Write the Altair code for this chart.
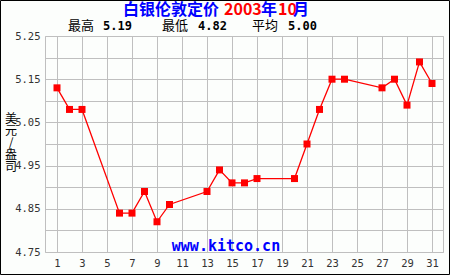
import altair as alt
import pandas as pd

days = [1, 2, 3, 6, 7, 8, 9, 10, 13, 14, 15, 16, 17, 20, 21, 22, 23, 24, 27, 28, 29, 30, 31]
prices = [5.13, 5.08, 5.08, 4.84, 4.84, 4.89, 4.82, 4.86, 4.89, 4.94, 4.91, 4.91, 4.92,
          4.92, 5.00, 5.08, 5.15, 5.15, 5.13, 5.15, 5.09, 5.19, 5.14]
x_ticks = [1, 3, 5, 7, 9, 11, 13, 15, 17, 19, 21, 23, 25, 27, 29, 31]
y_ticks = [4.75, 4.80, 4.85, 4.90, 4.95, 5.00, 5.05, 5.10, 5.15, 5.20, 5.25]
y_title_chars = ["美", "元", "/", "盎", "司"]

df = pd.DataFrame({"day": days, "price": prices})
one = pd.DataFrame({"k": [0]})

BLUE = "#0000FF"
RED = "#FF0000"

x = alt.X("day:Q", scale=alt.Scale(domain=[0.04, 31.88], nice=False, zero=False),
          axis=alt.Axis(values=x_ticks, title=None, grid=True, domain=False, ticks=False,
                        labelPadding=6, labelFlush=False))
y = alt.Y("price:Q", scale=alt.Scale(domain=[4.75, 5.25], nice=False, zero=False),
          axis=alt.Axis(values=y_ticks, title=None, grid=True, domain=False, ticks=False,
                        labelPadding=5, labelFlush=False,
                        labelExpr="abs(round(datum.value*100) % 10 - 5) < 1 ? format(datum.value, '.2f') : ''"))

line = alt.Chart(df).mark_line(color=RED, strokeWidth=1.3).encode(x=x, y=y)
pts = alt.Chart(df).mark_point(shape="square", filled=True, size=49, color=RED, opacity=1).encode(x=x, y=y)


def txt(text, px, py, color="#000000", size=12, weight="normal", font="Noto Sans CJK SC",
        align="left", baseline="middle"):
    return alt.Chart(one).mark_text(align=align, baseline=baseline, fontSize=size,
                                    fontWeight=weight, font=font, color=color).encode(
        x=alt.value(px), y=alt.value(py), text=alt.value(text))


L, T = 45, 36
layers = [
    line, pts,
    txt("白银伦敦定价", 123 - L, 10 - T, BLUE, 16, "bold"),
    txt("2003", 224 - L, 10 - T, RED, 16, "bold"),
    txt("年", 261 - L, 10 - T, BLUE, 16, "bold"),
    txt("10", 278 - L, 10 - T, RED, 16, "bold"),
    txt("月", 293 - L, 10 - T, BLUE, 16, "bold"),
    txt("最高", 68 - L, 26 - T, "#000000", 13),
    txt("5.19", 103 - L, 26 - T, "#000000", 12, "bold", "DejaVu Sans Mono"),
    txt("最低", 162 - L, 26 - T, "#000000", 13),
    txt("4.82", 198 - L, 26 - T, "#000000", 12, "bold", "DejaVu Sans Mono"),
    txt("平均", 252 - L, 26 - T, "#000000", 13),
    txt("5.00", 288 - L, 26 - T, "#000000", 12, "bold", "DejaVu Sans Mono"),
    txt("www.kitco.cn", 226 - L, 246 - T, BLUE, 15, "bold", "DejaVu Sans Mono", align="center"),
    alt.Chart(one).mark_rect(filled=False, stroke="#000000", strokeWidth=1).encode(
        x=alt.value(-L + 0.5), x2=alt.value(450 - L - 0.5),
        y=alt.value(-T + 0.5), y2=alt.value(275 - T - 0.5)),
]
for i, ch in enumerate(y_title_chars):
    layers.append(txt(ch, 11 - L, 118.5 + 12 * i - T, "#000000", 12, align="center"))

chart = alt.layer(*layers).properties(
    width=398, height=216,
    autosize=alt.AutoSizeParams(type="none"),
    padding={"left": L, "top": T, "right": 7, "bottom": 23},
    background="#FCFEFC",
).configure_view(
    stroke="#BFBFBF", fill="#FCFEFC"
).configure_axis(
    gridColor="#BFBFBF", gridOpacity=1, gridWidth=1,
    labelFont="DejaVu Sans Mono", labelFontSize=10.5, labelColor="#333333",
)

chart.save("out.html", embed_options={"renderer": "svg", "actions": False})
